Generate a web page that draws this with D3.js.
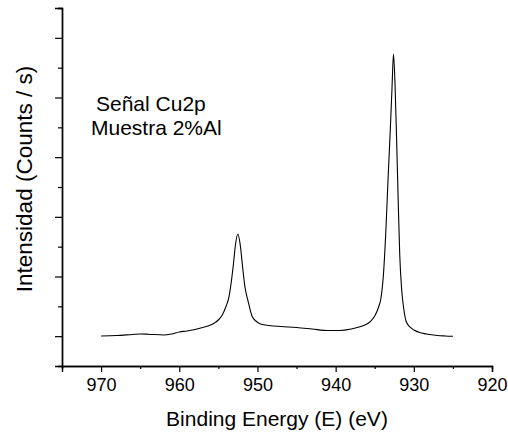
<!DOCTYPE html>
<html>
<head>
<meta charset="utf-8">
<script src="https://cdn.jsdelivr.net/npm/d3@7"></script>
<style>
  body { margin: 0; background: #fff; }
  svg text { font-family: "Liberation Sans", Arial, sans-serif; fill: #000; }
</style>
</head>
<body>
<div id="chart"></div>
<script>
// datos (XPS Cu2p)
const energy = [970, 968, 966, 965, 964, 962, 961, 960, 959, 958, 957, 956, 955.5, 955, 954.5, 954,
  953.7, 953.4, 953.1, 952.8, 952.5, 952.2, 951.9, 951.6, 951.2, 950.7, 950.2, 949.6, 948.5, 947,
  945, 943, 941, 939.5, 938, 937, 936, 935.5, 935, 934.5, 934.2, 933.9, 933.6, 933.3, 933.0, 932.8,
  932.6, 932.4, 932.2, 932.0, 931.8, 931.55, 931.3, 931.0, 930.5, 930, 929, 928, 927, 926, 925];
const counts = [1003, 1011, 1028, 1036, 1033, 1020, 1036, 1070, 1087, 1112, 1145, 1187, 1221, 1271, 1355, 1506,
  1623, 1858, 2176, 2545, 2712, 2528, 2159, 1824, 1589, 1338, 1254, 1204, 1179, 1162,
  1145, 1120, 1095, 1095, 1120, 1154, 1204, 1254, 1338, 1489, 1640, 2008, 2696, 3617, 4489, 5126,
  5729, 5209, 4288, 3282, 2360, 1774, 1472, 1254, 1154, 1103, 1053, 1028, 1011, 1003, 998];
const xMajor = [970, 960, 950, 940, 930, 920];
const xMinor = [975, 965, 955, 945, 935, 925];
const yMajor = [1000, 2000, 3000, 4000, 5000, 6000];
const yMinor = [1500, 2500, 3500, 4500, 5500, 6500];
const labels = ['Señal Cu2p', 'Muestra 2%Al'];

const width = 508, height = 434;
const margin = { top: 8, right: 16, bottom: 68, left: 62 };

const svg = d3.select('#chart').append('svg')
  .attr('width', width)
  .attr('height', height);

// escalas --------------------------------------------------------------
const xScale = d3.scaleLinear()
  .domain([975, 920])
  .range([margin.left, width - margin.right]);
const yScale = d3.scaleLinear()
  .domain([500, 6500])
  .range([height - margin.bottom, margin.top]);

// eje x
const gx = svg.append('g')
  .attr('transform', 'translate(0,' + (height - margin.bottom) + ')');
gx.call(d3.axisBottom(xScale).tickValues(xMinor).tickSize(3).tickFormat(''));
gx.append('g').call(d3.axisBottom(xScale).tickValues(xMajor).tickSize(6).tickPadding(6));
gx.selectAll('text').attr('font-size', '18px').attr('fill', '#000');

// eje y (sin etiquetas)
const gy = svg.append('g')
  .attr('transform', 'translate(' + margin.left + ',0)');
gy.call(d3.axisLeft(yScale).tickValues(yMinor).tickSize(4).tickFormat(''));
gy.append('g').call(d3.axisLeft(yScale).tickValues(yMajor).tickSize(7).tickFormat(''));

svg.selectAll('.domain').attr('stroke', '#000').attr('stroke-width', 1.4);
svg.selectAll('.tick line').attr('stroke', '#000').attr('stroke-width', 1.2);
// quitar dominio duplicado de los grupos internos
gx.select('g').select('.domain').remove();
gy.select('g').select('.domain').remove();

// linea ------------------------------------------------------------------
const data = energy.map((e, i) => ({ e: e, c: counts[i] }));
svg.append('path')
  .datum(data)
  .attr('fill', 'none')
  .attr('stroke', '#000')
  .attr('stroke-width', 1.1)
  .attr('d', d3.line()
    .curve(d3.curveMonotoneX)
    .x(d => xScale(d.e))
    .y(d => yScale(d.c)));

// textos ---------------------------------------------------------------
svg.append('text')
  .attr('x', xScale(947.5))
  .attr('y', 426)
  .attr('text-anchor', 'middle')
  .attr('font-size', '21px')
  .text('Binding Energy (E) (eV)');

svg.append('text')
  .attr('transform', 'translate(32,' + 179 + ') rotate(-90)')
  .attr('text-anchor', 'middle')
  .attr('font-size', '22.5px')
  .text('Intensidad (Counts / s)');

svg.append('text').attr('x', 96).attr('y', 111).attr('font-size', '21px').text(labels[0]);
svg.append('text').attr('x', 91).attr('y', 135).attr('font-size', '21px').text(labels[1]);
</script>
</body>
</html>
